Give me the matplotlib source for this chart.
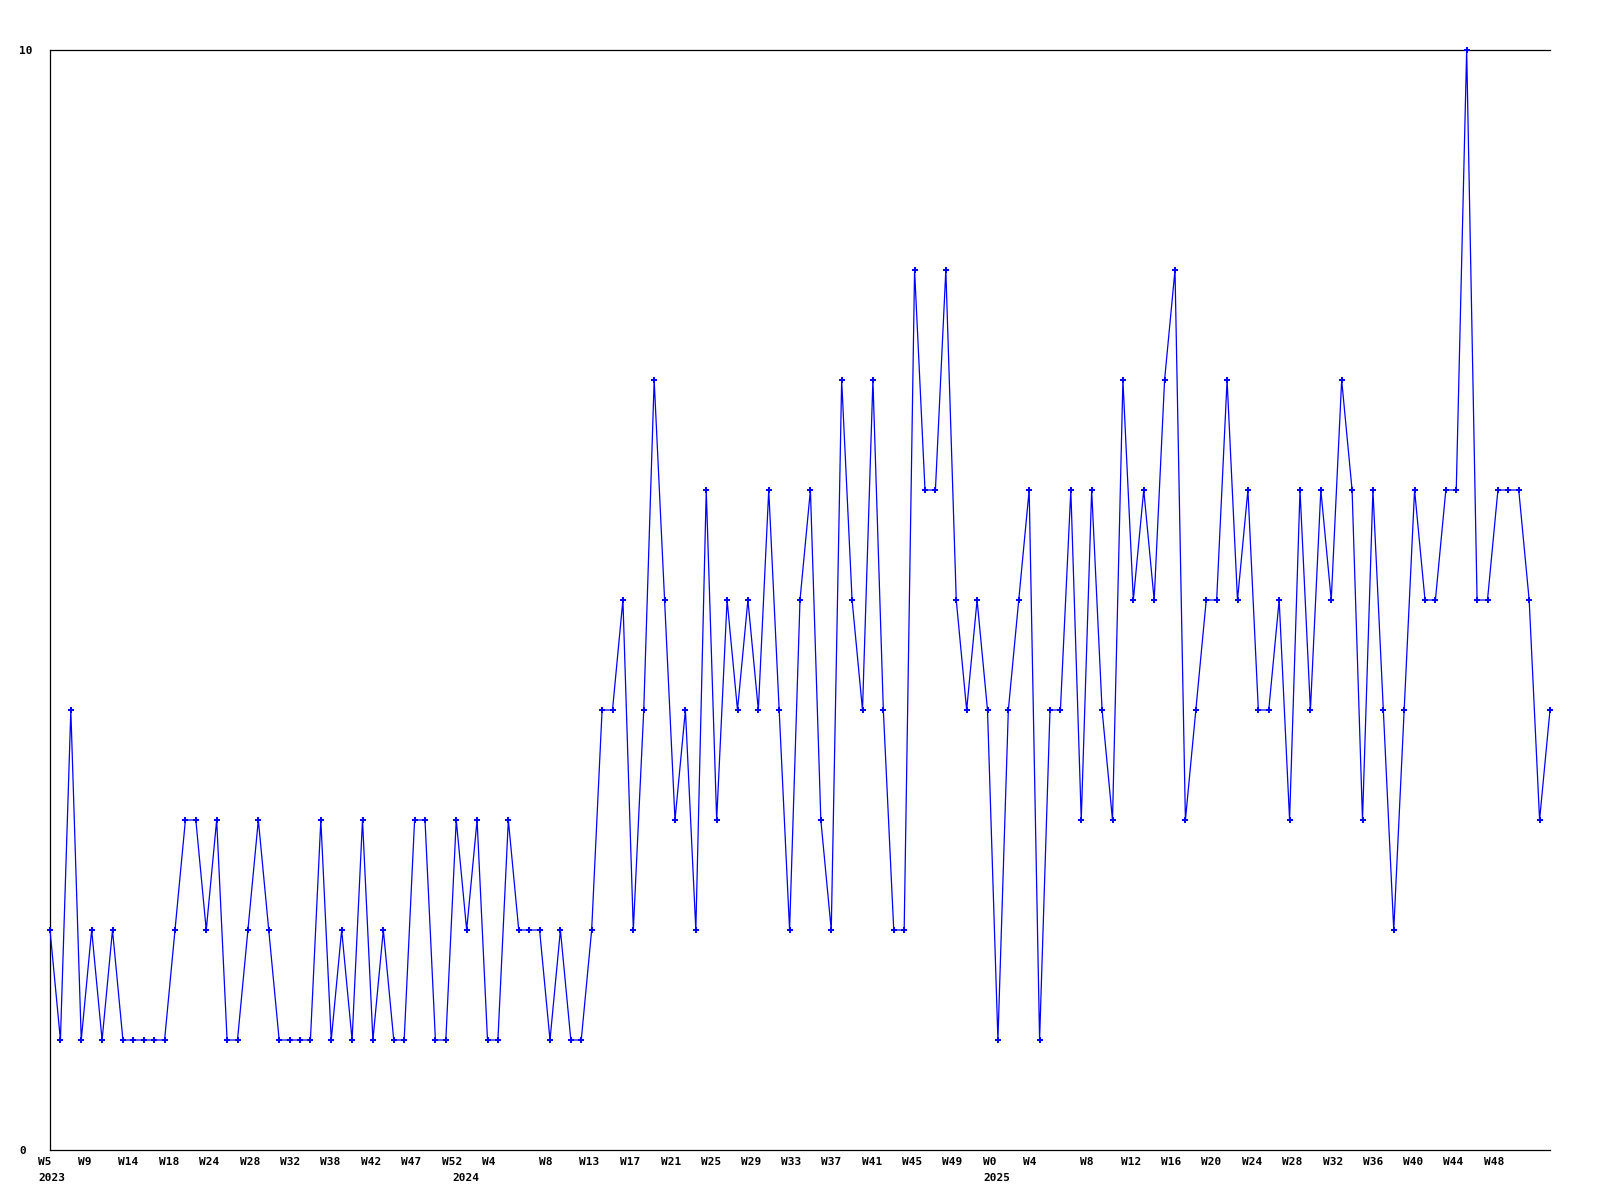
import matplotlib
matplotlib.use("Agg")
import matplotlib.pyplot as plt
import matplotlib.transforms as mtransforms

# weekly counts, one point per week
values = [2, 1, 4, 1, 2, 1, 2, 1, 1, 1, 1, 1, 2, 3, 3, 2, 3, 1, 1, 2,
          3, 2, 1, 1, 1, 1, 3, 1, 2, 1, 3, 1, 2, 1, 1, 3, 3, 1, 1, 3,
          2, 3, 1, 1, 3, 2, 2, 2, 1, 2, 1, 1, 2, 4, 4, 5, 2, 4, 7, 5,
          3, 4, 2, 6, 3, 5, 4, 5, 4, 6, 4, 2, 5, 6, 3, 2, 7, 5, 4, 7,
          4, 2, 2, 8, 6, 6, 8, 5, 4, 5, 4, 1, 4, 5, 6, 1, 4, 4, 6, 3,
          6, 4, 3, 7, 5, 6, 5, 7, 8, 3, 4, 5, 5, 7, 5, 6, 4, 4, 5, 3,
          6, 4, 6, 5, 7, 6, 3, 6, 4, 2, 4, 6, 5, 5, 6, 6, 10, 5, 5, 6,
          6, 6, 5, 3, 4]

# x-axis labels (position in point index units, label text)
week_pos = [-1.15, 2.69, 6.53, 10.46, 14.30, 18.24, 22.08, 25.92, 29.86, 33.70,
            37.63, 41.47, 46.94, 50.78, 54.72, 58.66, 62.50, 66.34, 70.18, 74.02,
            77.95, 81.79, 85.63, 89.57, 93.41, 98.88, 102.82, 106.66, 110.50, 114.43,
            118.27, 122.21, 126.05, 129.89, 133.73, 137.66]
week_labels = ["W5", "W9", "W14", "W18", "W24", "W28", "W32", "W38", "W42", "W47",
               "W52", "W4", "W8", "W13", "W17", "W21", "W25", "W29", "W33", "W37",
               "W41", "W45", "W49", "W0", "W4", "W8", "W12", "W16", "W20", "W24",
               "W28", "W32", "W36", "W40", "W44", "W48"]
year_pos = [-1.15, 38.6, 89.57]
year_labels = ["2023", "2024", "2025"]

font = {"family": "DejaVu Sans Mono", "weight": "bold", "size": 8}

fig = plt.figure(figsize=(16, 12), dpi=100)
ax = fig.add_axes([50 / 1600, 50 / 1200, 1500 / 1600, 1100 / 1200])

x = list(range(len(values)))
ax.plot(x, values, color="#0000ff", linewidth=0.9, marker="P", markersize=4,
        markeredgewidth=0, clip_on=False, zorder=3)

for side in ["top", "left", "bottom"]:
    ax.spines[side].set_linewidth(0.9)
    ax.spines[side].set_color("black")
ax.spines["right"].set_visible(False)

ax.set_yticks([0, 10])
ax.set_yticklabels(["0", "10"], fontdict=font, ha="left")
ax.tick_params(axis="y", length=0, pad=22.3)
ax.set_xticks([])

ax.set_xlim(0, len(values) - 1)
ax.set_ylim(0, 10)

trans = mtransforms.blended_transform_factory(ax.transData, ax.transAxes)
for pos, lab in zip(week_pos, week_labels):
    ax.text(pos, -0.0063, lab, transform=trans, ha="left", va="top",
            clip_on=False, **font)
for pos, lab in zip(year_pos, year_labels):
    ax.text(pos, -0.021, lab, transform=trans, ha="left", va="top",
            clip_on=False, **font)

fig.savefig("out.png", dpi=100)
